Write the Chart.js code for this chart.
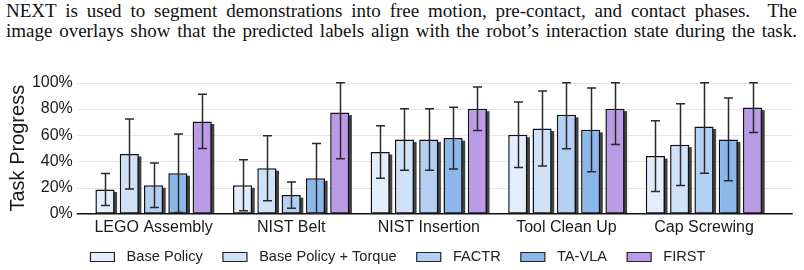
<!DOCTYPE html>
<html>
<head>
<meta charset="utf-8">
<script src="https://cdn.jsdelivr.net/npm/chart.js@4.4.1/dist/chart.umd.min.js"></script>
<style>
  html, body { margin: 0; padding: 0; background: #fff; width: 804px; height: 270px; overflow: hidden; }
  #txt { position: absolute; left: 6px; top: 1px; width: 791px; font-family: "Liberation Serif", "Times New Roman", serif; font-size: 19px; line-height: 20px; color: #111; }
  #txt div { text-align: justify; text-align-last: justify; white-space: nowrap; }
  #wrap { position: absolute; left: 0; top: 40px; width: 804px; height: 234.3px; }
</style>
</head>
<body>
<div id="txt">
  <div>NEXT is used to segment demonstrations into free motion, pre-contact, and contact phases.&nbsp; The</div>
  <div>image overlays show that the predicted labels align with the robot’s interaction state during the task.</div>
</div>
<div id="wrap"><canvas id="c"></canvas></div>
<script>
const categories = ['LEGO Assembly', 'NIST Belt', 'NIST Insertion', 'Tool Clean Up', 'Cap Screwing'];
const seriesNames = ['Base Policy', 'Base Policy + Torque', 'FACTR', 'TA-VLA', 'FIRST'];
const basePolicy        = [18.5, 21.7, 47.1, 60.3, 44.0];
const basePolicyTorque  = [45.6, 34.7, 56.7, 65.0, 52.7];
const factr             = [21.7, 14.2, 56.7, 75.5, 66.6];
const taVla             = [30.9, 27.0, 57.7, 64.0, 56.7];
const first             = [70.4, 77.2, 80.2, 80.2, 81.0];
const basePolicyErr       = [12.2, 19.4, 20.0, 25.0, 27.0];
const basePolicyTorqueErr = [26.7, 24.8, 23.5, 28.6, 31.2];
const factrErr            = [17.0, 10.0, 23.5, 26.0, 35.7];
const taVlaErr            = [29.9, 26.6, 23.6, 32.0, 31.6];
const firstErr            = [20.7, 35.2, 16.6, 27.3, 19.0];
const yTicks = [0, 20, 40, 60, 80, 100];

const colors = ['#e3eefc', '#cfe2f8', '#b3d0f4', '#8cb7ea', '#b99be6'];
const values = [basePolicy, basePolicyTorque, factr, taVla, first];
const errors = [basePolicyErr, basePolicyTorqueErr, factrErr, taVlaErr, firstErr];

const FONT = '"Liberation Sans", Arial, sans-serif';

const gridPlugin = {
  id: 'extGrid',
  beforeDatasetsDraw(chart) {
    const { ctx, chartArea, scales } = chart;
    const y = scales.y;
    const l = chartArea.left - 8, r = chartArea.right + 20;
    ctx.save();
    ctx.strokeStyle = '#e6e6e6';
    ctx.lineWidth = 1;
    yTicks.forEach(v => {
      if (v === 0) return;
      const py = Math.round(y.getPixelForValue(v)) + 0.5;
      ctx.beginPath(); ctx.moveTo(l, py); ctx.lineTo(r, py); ctx.stroke();
    });
    ctx.restore();
  },
  afterDatasetsDraw(chart) {
    const { ctx, chartArea, scales } = chart;
    const y = scales.y;
    const l = chartArea.left - 8, r = chartArea.right + 20;
    ctx.save();
    ctx.strokeStyle = '#111';
    ctx.lineWidth = 1.5;
    const py = y.getPixelForValue(0);
    ctx.beginPath(); ctx.moveTo(l, py); ctx.lineTo(r, py); ctx.stroke();
    ctx.restore();
  }
};

const shadowPlugin = {
  id: 'barShadow',
  beforeDatasetsDraw(chart) {
    const { ctx } = chart;
    ctx.save();
    ctx.fillStyle = 'rgba(45,45,45,0.9)';
    chart.data.datasets.forEach((ds, i) => {
      const meta = chart.getDatasetMeta(i);
      meta.data.forEach(el => {
        const p = el.getProps(['x', 'y', 'base', 'width'], true);
        ctx.fillRect(p.x - p.width / 2 + 2.5, p.y + 2.5, p.width, p.base - p.y - 2.5);
      });
    });
    ctx.restore();
  }
};

const errorPlugin = {
  id: 'errBars',
  afterDatasetsDraw(chart) {
    const { ctx, scales } = chart;
    const y = scales.y;
    ctx.save();
    ctx.strokeStyle = '#2a2a2a';
    ctx.lineWidth = 1.5;
    chart.data.datasets.forEach((ds, i) => {
      const meta = chart.getDatasetMeta(i);
      meta.data.forEach((el, j) => {
        const v = values[i][j], e = errors[i][j];
        const lo = Math.max(0, v - e), hi = Math.min(100, v + e);
        const x = Math.round(el.x) + 0.5;
        const y1 = y.getPixelForValue(lo), y2 = y.getPixelForValue(hi);
        ctx.beginPath();
        ctx.moveTo(x, y1); ctx.lineTo(x, y2);
        ctx.moveTo(x - 4.5, y1); ctx.lineTo(x + 4.5, y1);
        ctx.moveTo(x - 4.5, y2); ctx.lineTo(x + 4.5, y2);
        ctx.stroke();
      });
    });
    ctx.restore();
  }
};

new Chart(document.getElementById('c'), {
  type: 'bar',
  data: {
    labels: categories,
    datasets: seriesNames.map((name, i) => ({
      label: '\u2004' + name + '  ',
      data: values[i],
      backgroundColor: colors[i],
      borderColor: '#111',
      borderWidth: 1.5,
      borderSkipped: false,
      categoryPercentage: 0.883,
      barPercentage: 0.79
    }))
  },
  options: {
    responsive: true,
    maintainAspectRatio: false,
    animation: false,
    layout: { padding: { top: 42.7, right: 0, left: 0, bottom: 0 } },
    plugins: {
      tooltip: { enabled: false },
      legend: {
        position: 'bottom',
        labels: {
          boxWidth: 24,
          boxHeight: 9,
          padding: 12,
          color: '#222',
          font: { family: FONT, size: 14.6 },
          generateLabels(chart) {
            return chart.data.datasets.map((ds, i) => ({
              text: ds.label,
              fillStyle: ds.backgroundColor,
              strokeStyle: '#222',
              lineWidth: 1.2,
              fontColor: '#222',
              datasetIndex: i
            }));
          }
        }
      }
    },
    scales: {
      x: {
        grid: { display: false, drawTicks: false },
        border: { display: false },
        ticks: { color: '#1a1a1a', font: { family: FONT, size: 16 }, padding: 4 },
        afterFit(s) { s.height = 24; }
      },
      y: {
        min: 0, max: 100,
        afterBuildTicks(s) { s.ticks = yTicks.map(v => ({ value: v })); },
        grid: { display: false, drawTicks: false },
        border: { display: false },
        ticks: { color: '#1a1a1a', font: { family: FONT, size: 16 }, padding: 12, callback: v => v + '%' },
        title: { display: true, text: 'Task Progress', color: '#1a1a1a', font: { family: FONT, size: 20 }, padding: { top: 6, bottom: 0 } },
        afterFit(s) { s.width = 84.8; }
      },
      yRight: {
        position: 'right',
        display: true,
        grid: { display: false, drawTicks: false },
        border: { display: false },
        ticks: { display: false },
        afterFit(s) { s.width = 31.2; }
      }
    }
  },
  plugins: [gridPlugin, shadowPlugin, errorPlugin]
});
</script>
</body>
</html>
